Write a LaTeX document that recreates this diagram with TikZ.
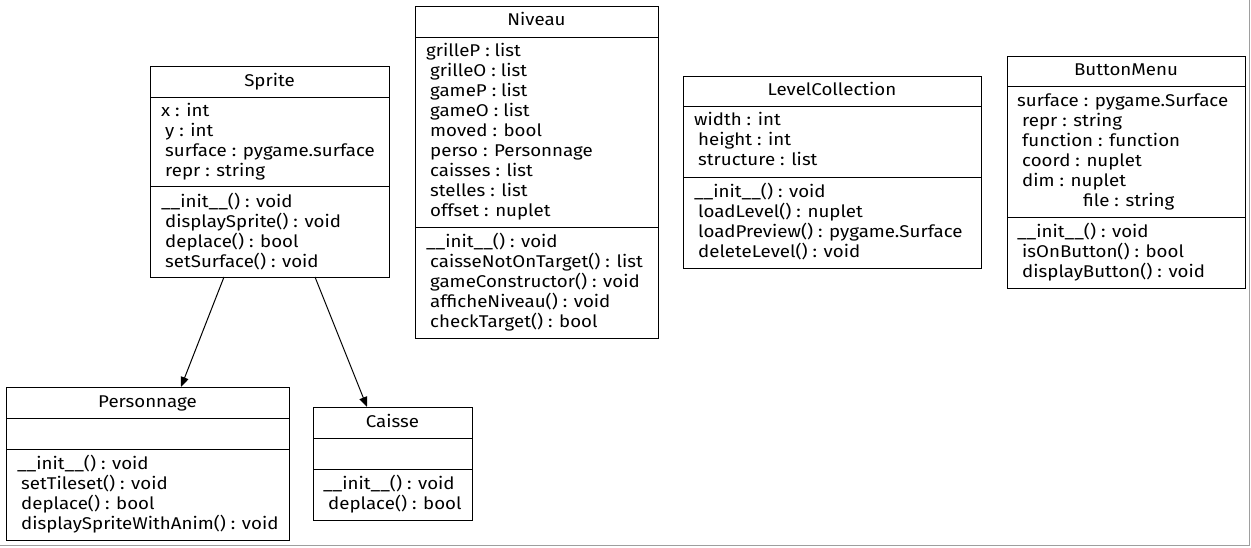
\documentclass[tikz,border=0pt]{standalone}
\usepackage{fontspec}
\setmainfont{Fira Sans}[FakeStretch=1.1]
\usetikzlibrary{arrows.meta}
\tikzset{
  cls/.style={draw=black, line width=1pt},
  sep/.style={draw=black, line width=1pt},
  ttl/.style={anchor=base, inner sep=0pt, font=\fontsize{17}{20}\selectfont},
  txt/.style={anchor=base west, inner sep=0pt, font=\fontsize{17}{20}\selectfont},
  inh/.style={draw=black, line width=1pt, -{Triangle[length=10pt,width=8pt]}},
}
\begin{document}
\begin{tikzpicture}[x=1pt,y=-1pt]
\useasboundingbox (0,0) rectangle (1251,547);
\draw[draw=black!38, line width=1.2pt] (0,545.6) -- (1249.6,545.6) -- (1249.6,0);

% ---------- Sprite ----------
\draw[cls] (150,66) rectangle (389,277);
\draw[sep] (150,97) -- (389,97);
\draw[sep] (150,186) -- (389,186);
\node[ttl] (sp-t) at (269.5,86) {Sprite};
\node[txt] (sp-a1) at (161,116) {x : int};
\foreach \t [count=\i] in {y : int, surface : pygame.surface, repr : string}
  \node[txt] (sp-a\i x) at (165,116+20*\i) {\t};
\node[txt] (sp-m1) at (161,207) {\_\_init\_\_() : void};
\foreach \t [count=\i] in {displaySprite() : void, deplace() : bool, setSurface() : void}
  \node[txt] (sp-m\i x) at (165,207+20*\i) {\t};
\coordinate (sp-o1) at (224,277);
\coordinate (sp-o2) at (315,277);

% ---------- Niveau ----------
\draw[cls] (415,6) rectangle (658,338);
\draw[sep] (415,37) -- (658,37);
\draw[sep] (415,227) -- (658,227);
\node[ttl] (nv-t) at (536.5,25) {Niveau};
\node[txt] (nv-a1) at (426,56) {grilleP : list};
\foreach \t [count=\i] in {grilleO : list, gameP : list, gameO : list, moved : bool, perso : Personnage, caisses : list, stelles : list, offset : nuplet}
  \node[txt] (nv-a\i x) at (430,56+20*\i) {\t};
\node[txt] (nv-m1) at (426,247) {\_\_init\_\_() : void};
\foreach \t [count=\i] in {caisseNotOnTarget() : list, gameConstructor() : void, afficheNiveau() : void, checkTarget() : bool}
  \node[txt] (nv-m\i x) at (430,247+20*\i) {\t};

% ---------- LevelCollection ----------
\draw[cls] (683,76) rectangle (981,268);
\draw[sep] (683,106) -- (981,106);
\draw[sep] (683,177) -- (981,177);
\node[ttl] (lc-t) at (832,95) {LevelCollection};
\node[txt] (lc-a1) at (694,125) {width : int};
\foreach \t [count=\i] in {height : int, structure : list}
  \node[txt] (lc-a\i x) at (698,125+20*\i) {\t};
\node[txt] (lc-m1) at (694,197) {\_\_init\_\_() : void};
\foreach \t [count=\i] in {loadLevel() : nuplet, loadPreview() : pygame.Surface, deleteLevel() : void}
  \node[txt] (lc-m\i x) at (698,197+20*\i) {\t};

% ---------- ButtonMenu ----------
\draw[cls] (1007,56) rectangle (1245,288);
\draw[sep] (1007,86) -- (1245,86);
\draw[sep] (1007,217) -- (1245,217);
\node[ttl] (bm-t) at (1126,75) {ButtonMenu};
\node[txt] (bm-a1) at (1017,106) {surface : pygame.Surface};
\foreach \t [count=\i] in {repr : string, function : function, coord : nuplet, dim : nuplet}
  \node[txt] (bm-a\i x) at (1022,106+20*\i) {\t};
\node[txt] (bm-a6) at (1083,206) {file : string};
\node[txt] (bm-m1) at (1017,237) {\_\_init\_\_() : void};
\foreach \t [count=\i] in {isOnButton() : bool, displayButton() : void}
  \node[txt] (bm-m\i x) at (1022,237+20*\i) {\t};

% ---------- Personnage ----------
\draw[cls] (6,387) rectangle (289,540);
\draw[sep] (6,418) -- (289,418);
\draw[sep] (6,449) -- (289,449);
\node[ttl] (pe-t) at (147.5,407) {Personnage};
\node[txt] (pe-m1) at (17,469) {\_\_init\_\_() : void};
\foreach \t [count=\i] in {setTileset() : void, deplace() : bool, displaySpriteWithAnim() : void}
  \node[txt] (pe-m\i x) at (21,469+20*\i) {\t};
\coordinate (pe-i) at (181,387);

% ---------- Caisse ----------
\draw[cls] (313,407) rectangle (472,520);
\draw[sep] (313,438) -- (472,438);
\draw[sep] (313,469) -- (472,469);
\node[ttl] (ca-t) at (392.5,427) {Caisse};
\node[txt] (ca-m1) at (323,489) {\_\_init\_\_() : void};
\node[txt] (ca-m2) at (328,509) {deplace() : bool};
\coordinate (ca-i) at (367,407);

% ---------- inheritance ----------
\draw[inh] (sp-o1) -- (pe-i);
\draw[inh] (sp-o2) -- (ca-i);
\end{tikzpicture}
\end{document}
